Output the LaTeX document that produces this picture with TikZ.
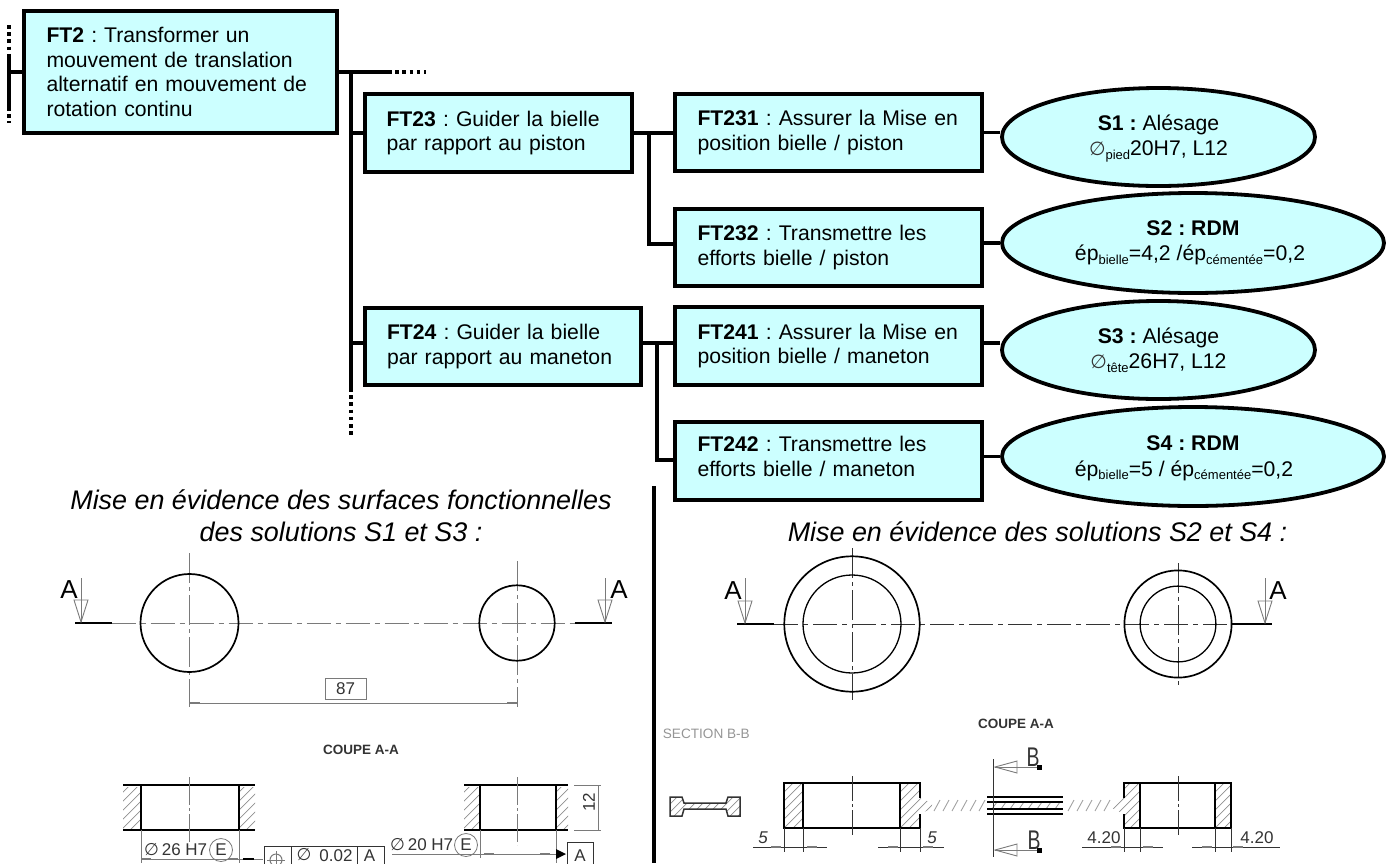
\documentclass[tikz,border=0pt]{standalone}
\usepackage{fontspec}
\setmainfont{Liberation Sans}
\newfontfamily\djv{DejaVu Sans}
\usetikzlibrary{shapes.geometric,arrows.meta}
\definecolor{boxfill}{HTML}{CCFFFF}
\definecolor{drg}{HTML}{333333}
\definecolor{midg}{HTML}{7A7A7A}
\newcommand{\lowtxt}[1]{\raisebox{-3.5pt}{\fontsize{13}{13}\selectfont #1}}
\newcommand{\diam}{{\djv\fontsize{17}{17}\selectfont\textcolor{drg}{∅}}}
\newcommand{\bigdiam}{{\djv\fontsize{19}{19}\selectfont\textcolor{drg}{∅}}}
\newcommand{\lift}{\rule{0pt}{18pt}}
\newcommand{\drop}{\rule[-9pt]{0pt}{1pt}}
% hatching of a closed path: #1 path, #2 x start, #3 step
\newcommand{\hatchpath}[3]{%
  \begin{scope}
    \clip #1;
    \foreach \k in {-110,...,110} {
      \draw[hatchln] (#2+\k*#3,900) -- ++(200,-200);
    }
  \end{scope}}
\newcommand{\dimtick}[2]{\draw[line width=2pt,midg] (#1,#2) -- ++(10,0);}
\tikzset{
  ftbox/.style={draw=black,line width=3.8pt,fill=boxfill,rectangle,inner sep=0pt,align=left,anchor=center,
    font=\fontsize{21.2}{24.5}\selectfont},
  solbox/.style={draw=black,line width=3.8pt,fill=boxfill,ellipse,inner sep=0pt,align=center,
    font=\fontsize{21.2}{25.5}\selectfont},
  link/.style={line width=3.6pt,black},
  dots/.style={line width=3.6pt,black,dash pattern=on 3.5pt off 3.7pt},
  titletxt/.style={font=\fontsize{26.9}{32}\selectfont\itshape,align=center,inner sep=0pt},
  outline/.style={line width=1.7pt,black},
  thinln/.style={line width=0.9pt,drg},
  axisln/.style={line width=0.9pt,midg,dash pattern=on 24pt off 5pt on 5pt off 5pt},
  hatchln/.style={line width=0.7pt,midg!85},
  bigA/.style={font=\fontsize{26}{26}\selectfont,inner sep=0pt,text=black},
  bigB/.style={font=\fontsize{27}{27}\selectfont,inner sep=0pt,text=drg,xscale=0.72},
  dimtxt/.style={font=\fontsize{17}{17}\selectfont,inner sep=0pt,text=drg},
  cuttxt/.style={font=\fontsize{13.5}{14}\selectfont\bfseries,inner sep=0pt,text=drg},
  frameln/.style={line width=1pt,drg}
}
\begin{document}
\frenchspacing
\begin{tikzpicture}[x=1pt,y=-1pt]
\useasboundingbox (0,0) rectangle (1393,863);
\clip (0,0) rectangle (1393,863);
% --- boxes
\node[ftbox,minimum width=313pt,minimum height=122pt,text width=268pt] (ft2) at (180.5,72) {\textbf{FT2} : Transformer un\\mouvement de translation\\alternatif en mouvement de\\rotation continu};
\node[ftbox,minimum width=267pt,minimum height=78pt,text width=224pt] (ft23) at (498.5,133) {\textbf{FT23} : Guider la bielle\\par rapport au piston};
\node[ftbox,minimum width=276pt,minimum height=77pt,text width=232pt] (ft24) at (503,346.5) {\textbf{FT24} : Guider la bielle\\par rapport au maneton};
\node[ftbox,minimum width=307pt,minimum height=77pt,text width=262pt] (ft231) at (828.5,132.5) {\textbf{FT231} : Assurer la Mise en\\position bielle / piston};
\node[ftbox,minimum width=307pt,minimum height=77pt,text width=262pt] (ft232) at (828.5,247.5) {\textbf{FT232} : Transmettre les\\efforts bielle / piston};
\node[ftbox,minimum width=307pt,minimum height=78pt,text width=262pt] (ft241) at (828.5,346) {\textbf{FT241} : Assurer la Mise en\\position bielle / maneton};
\node[ftbox,minimum width=307pt,minimum height=78pt,text width=262pt] (ft242) at (828.5,461) {\textbf{FT242} : Transmettre les\\efforts bielle / maneton\drop};
% --- ellipses
\node[solbox,minimum width=313pt,minimum height=98pt] (s1) at (1158.5,137) {\lift\textbf{S1 :} Alésage\\\bigdiam\lowtxt{pied}20H7, L12};
\node[solbox,minimum width=382pt,minimum height=100pt] (s2) at (1193,243) {\textbf{S2 : RDM}\\ép\lowtxt{bielle}=4,2 /ép\lowtxt{cémentée}=0,2\hspace*{6pt}};
\node[solbox,minimum width=313pt,minimum height=98pt] (s3) at (1158.5,350) {\textbf{S3 :} Alésage\\\bigdiam\lowtxt{tête}26H7, L12};
\node[solbox,minimum width=382pt,minimum height=99pt] (s4) at (1193,456.5) {\lift\textbf{S4 : RDM}\\ép\lowtxt{bielle}=5 / ép\lowtxt{cémentée}=0,2\hspace*{18pt}};
% --- connector helpers
\coordinate (lefttop) at (9,25);
\coordinate (lefta) at (9,55);
\coordinate (leftb) at (9,107);
\coordinate (leftbot) at (9,123);
\coordinate (leftj) at (9,72);
\coordinate (topa) at (388,72);
\coordinate (topb) at (426,72);
\coordinate (vj) at (351,72);
\coordinate (vend) at (351,388);
\coordinate (vdot) at (351,436);
\coordinate (j23) at (649,133);
\coordinate (j24) at (657,343);
\coordinate (e232) at (649,244);
\coordinate (e242) at (657,460);
% --- connectors
\draw[link] (leftj) -- (ft2.west);
\draw[link] (lefta) -- (leftb);
\draw[dots] (lefttop) -- (lefta);
\draw[dots] (leftb) -- (leftbot);
\draw[link] (ft2.east |- vj) -- (topa);
\draw[dots] (topa) -- (topb);
\draw[link] (vj) -- (vend);
\draw[dots] (vend) -- (vdot);
\draw[link] (vj |- ft23.west) -- (ft23.west);
\draw[link] (vj |- j24) -- (j24 -| ft24.west);
\draw[link] (ft23.east) -- (j23 -| ft231.west);
\draw[link] (j23) -- (e232) -- (e232 -| ft232.west);
\draw[link] (j24 -| ft24.east) -- (j24 -| ft241.west);
\draw[link] (j24) -- (e242) -- (e242 -| ft242.west);
\draw[link] (ft231.east) -- (ft231.east -| s1.west);
\draw[link] (s2.west -| ft232.east) -- (s2.west);
\draw[link] ([yshift=3pt]ft241.east) -- ([yshift=3pt]ft241.east -| s3.west);
\draw[link] (s4.west -| ft242.east) -- (s4.west);
% --- titles and divider
\node[titletxt] (t1) at (341,516) {Mise en évidence des surfaces fonctionnelles\\des solutions S1 et S3 :};
\node[titletxt] (t2) at (1037.5,532) {Mise en évidence des solutions S2 et S4 :};
\draw[line width=3.6pt,black] (654,486) -- (654,863);
% --- LEFT drawing, top view
\draw[axisln] (111.5,623) -- (574.5,623);
\draw[thinln,midg,dash pattern=on 30pt off 4pt on 4pt off 4pt] (189.5,553) -- (189.5,707);
\draw[thinln,midg,dash pattern=on 30pt off 4pt on 4pt off 4pt] (517,561) -- (517,707);
\draw[line width=1.1pt,black] (75,623) -- (111.5,623);
\draw[line width=1.1pt,black] (574.5,623) -- (611.5,623);
\draw[outline] (189.5,623) circle (49);
\draw[outline] (517,623) circle (37.7);
\draw[thinln,midg] (81,578) -- (81,622);
\draw[thinln,midg] (74,600) -- (88,600) -- (81,622) -- cycle;
\draw[thinln,midg] (605,578) -- (605,622);
\draw[thinln,midg] (598,600) -- (612,600) -- (605,622) -- cycle;
\node[bigA] (a1) at (69,590) {A};
\node[bigA] (a2) at (619,590) {A};
\node[draw=midg,line width=1pt,minimum width=41pt,minimum height=21pt,inner sep=0pt,font=\fontsize{17}{17}\selectfont,text=drg] (d87) at (345.5,688.5) {87};
\draw[line width=1pt,midg] (189.5,703) -- (517,703);
\dimtick{189.5}{703}\dimtick{507}{703}
\node[cuttxt] (c1) at (361,750) {COUPE A-A};
% --- LEFT drawing, section
\hatchpath{(123,787) rectangle (141,829)}{123}{9}
\hatchpath{(239,787) rectangle (255,829)}{239}{9}
\hatchpath{(464,787) rectangle (480,829)}{464}{9}
\hatchpath{(556,787) rectangle (568,829)}{556}{9}
\draw[outline] (123,785) -- (255,785);
\draw[outline] (123,830) -- (255,830);
\draw[outline] (141,785) -- (141,830);
\draw[outline] (239,785) -- (239,830);
\draw[outline] (464,785) -- (568,785);
\draw[outline] (464,830) -- (568,830);
\draw[outline] (480,785) -- (480,830);
\draw[outline] (556,785) -- (556,830);
\draw[thinln,midg,dash pattern=on 28pt off 3pt on 3pt off 3pt] (189.5,777) -- (189.5,845);
\draw[thinln,midg,dash pattern=on 28pt off 3pt on 3pt off 3pt] (517,777) -- (517,845);
\draw[line width=0.8pt,midg] (574,785) -- (601,785);
\draw[line width=0.8pt,midg] (574,830) -- (601,830);
\draw[line width=0.8pt,midg] (598.5,785) -- (598.5,830);
\node[dimtxt,rotate=90] (d12) at (589,802) {12};
\draw[line width=0.8pt,midg] (141,830) -- (141,863);
\draw[line width=0.8pt,midg] (239,830) -- (239,863);
\draw[line width=0.8pt,midg] (480,830) -- (480,858);
\draw[line width=0.8pt,midg] (556,830) -- (556,863);
\node[dimtxt,anchor=west] (d26) at (144,850) {\diam\,26 H7};
\node[draw=midg,circle,line width=0.8pt,minimum size=23pt,inner sep=0pt,dimtxt] (e26) at (221,850) {E};
\node[dimtxt,anchor=west] (d20) at (390,845) {\diam\,20 H7};
\node[draw=midg,circle,line width=0.8pt,minimum size=23pt,inner sep=0pt,dimtxt] (e20) at (466,845) {E};
\draw[line width=0.9pt,midg] (141,859) -- (263,859);
\dimtick{141}{859}\dimtick{228}{859}
\draw[line width=2pt,black] (243,859) -- (254,859);
\coordinate (tolA) at (558,854);
\draw[line width=0.9pt,midg] (392,854) -- (tolA);
\dimtick{484}{854}\dimtick{540}{854}
\fill[black] (566,854) -- (556,849) -- (556,859) -- cycle;
\draw[frameln] (264,875) -- (264,846) -- (384,846) -- (384,875);
\draw[frameln] (291,846) -- (291,875);
\draw[frameln] (357,846) -- (357,875);
\draw[frameln,midg] (276,860) circle (6);
\draw[frameln,midg] (276,851) -- (276,869);
\draw[frameln,midg] (267,860) -- (285,860);
\node[dimtxt] (told) at (304,854.5) {\diam};
\node[dimtxt] (tol) at (336,856) {0.02};
\node[dimtxt] (tola) at (369.5,856) {A};
\draw[frameln] (567,875) -- (567,842) -- (593,842) -- (593,875);
\node[dimtxt] (boxa) at (580,855.5) {A};
% --- RIGHT drawing, top view
\draw[axisln,drg] (774,624) -- (1231,624);
\draw[thinln,dash pattern=on 30pt off 4pt on 4pt off 4pt] (852,548) -- (852,700);
\draw[thinln,dash pattern=on 30pt off 4pt on 4pt off 4pt] (1178,563) -- (1178,688);
\draw[line width=1.1pt,black] (737,624) -- (774,624);
\draw[line width=1.1pt,black] (1231,624) -- (1272,624);
\draw[outline] (852,624) circle (67.7);
\draw[line width=1.3pt,black] (852,624) circle (49);
\draw[outline] (1178,624) circle (53.6);
\draw[line width=1.3pt,black] (1178,624) circle (37.9);
\draw[thinln,midg] (745,578) -- (745,623);
\draw[thinln,midg] (738,601) -- (752,601) -- (745,623) -- cycle;
\draw[thinln,midg] (1265,578) -- (1265,623);
\draw[thinln,midg] (1258,601) -- (1272,601) -- (1265,623) -- cycle;
\node[bigA] (a3) at (733,591) {A};
\begin{scope}
\clip (1266,570) rectangle (1287,610);
\node[bigA] (a4) at (1278,591) {A};
\end{scope}
\node[cuttxt] (c2) at (1016,724) {COUPE A-A};
\node[font=\fontsize{13.6}{14}\selectfont,inner sep=0pt,text=midg!80,anchor=east] (secb) at (750,734) {SECTION B-B};
% --- RIGHT drawing, section B-B
\hatchpath{(670,797) -- (682,797) -- (684,803) -- (726,803) -- (728,797) -- (740,797) -- (740,816) -- (728,816) -- (726,809) -- (684,809) -- (682,816) -- (670,816) -- cycle}{670}{8}
\draw[line width=1.5pt,drg] (670,797) -- (682,797) -- (684,803) -- (726,803) -- (728,797) -- (740,797) -- (740,816) -- (728,816) -- (726,809) -- (684,809) -- (682,816) -- (670,816) -- cycle;
% --- RIGHT drawing, section A-A
\hatchpath{(784,784) rectangle (803,827)}{784}{9}
\hatchpath{(900,784) -- (920,784) -- (920,798) -- (932,803) -- (932,808) -- (920,814) -- (920,827) -- (900,827) -- cycle}{900}{9}
\hatchpath{(1124,784) -- (1124,798) -- (1112,803) -- (1112,808) -- (1124,814) -- (1124,827) -- (1140,827) -- (1140,784) -- cycle}{1112}{9}
\hatchpath{(1215,784) rectangle (1231,827)}{1215}{9}
\draw[outline] (920,798) -- (920,783) -- (784,783) -- (784,828) -- (920,828) -- (920,814);
\draw[outline] (803,783) -- (803,828);
\draw[outline] (900,783) -- (900,828);
\draw[outline] (1124,798) -- (1124,783) -- (1231,783) -- (1231,828) -- (1124,828) -- (1124,814);
\draw[outline] (1140,783) -- (1140,828);
\draw[outline] (1215,783) -- (1215,828);
\draw[thinln,dash pattern=on 25pt off 3pt on 3pt off 3pt] (852,776) -- (852,836);
\draw[thinln,dash pattern=on 25pt off 3pt on 3pt off 3pt] (1178,776) -- (1178,836);
% ribs
\foreach \k in {934,943,...,980} {\draw[line width=0.9pt,midg!70] (\k,811) -- ++(6,-11);}
\foreach \k in {1068,1077,...,1108} {\draw[line width=0.9pt,midg!70] (\k,811) -- ++(6,-11);}
\foreach \k in {992,1001,...,1056} {\draw[hatchln] (\k,809) -- ++(5,-7);}
\draw[line width=1.6pt,black] (987,797) -- (1063,797);
\draw[line width=1.6pt,black] (987,802) -- (1063,802);
\draw[line width=1.6pt,black] (987,809) -- (1063,809);
\draw[line width=1.6pt,black] (987,814) -- (1063,814);
% cutting plane B
\draw[thinln] (993,759) -- (993,857);
\draw[thinln,midg] (1039,767) -- (995,767);
\draw[thinln,midg] (995,767) -- (1017,761) -- (1017,773) -- cycle;
\draw[thinln,midg] (1039,850) -- (995,850);
\draw[thinln,midg] (995,850) -- (1017,844) -- (1017,856) -- cycle;
\fill[black] (1037,765) rectangle (1042,770);
\fill[black] (1037,848) rectangle (1042,853);
\node[bigB] (b1) at (1033,757) {B};
\node[bigB] (b2) at (1034,840) {B};
% dims
\foreach \x in {784,803,900,920,1124,1140,1215,1231} {\draw[line width=0.8pt,drg] (\x,828) -- (\x,852);}
\draw[line width=0.8pt,drg] (753,847) -- (827,847);
\draw[line width=0.8pt,drg] (878,847) -- (944,847);
\draw[line width=0.8pt,drg] (1082,847) -- (1163,847);
\draw[line width=0.8pt,drg] (1192,847) -- (1280,847);
\dimtick{771}{847}\dimtick{807}{847}\dimtick{888}{847}\dimtick{923}{847}
\dimtick{1111}{847}\dimtick{1143}{847}\dimtick{1202}{847}\dimtick{1233}{847}
\node[dimtxt,font=\fontsize{17}{17}\selectfont\itshape] (d5a) at (763,838) {5};
\node[dimtxt,font=\fontsize{17}{17}\selectfont\itshape] (d5b) at (932,838) {5};
\node[dimtxt] (d42a) at (1104,838) {4.20};
\node[dimtxt] (d42b) at (1257,838) {4.20};
\end{tikzpicture}
\end{document}
